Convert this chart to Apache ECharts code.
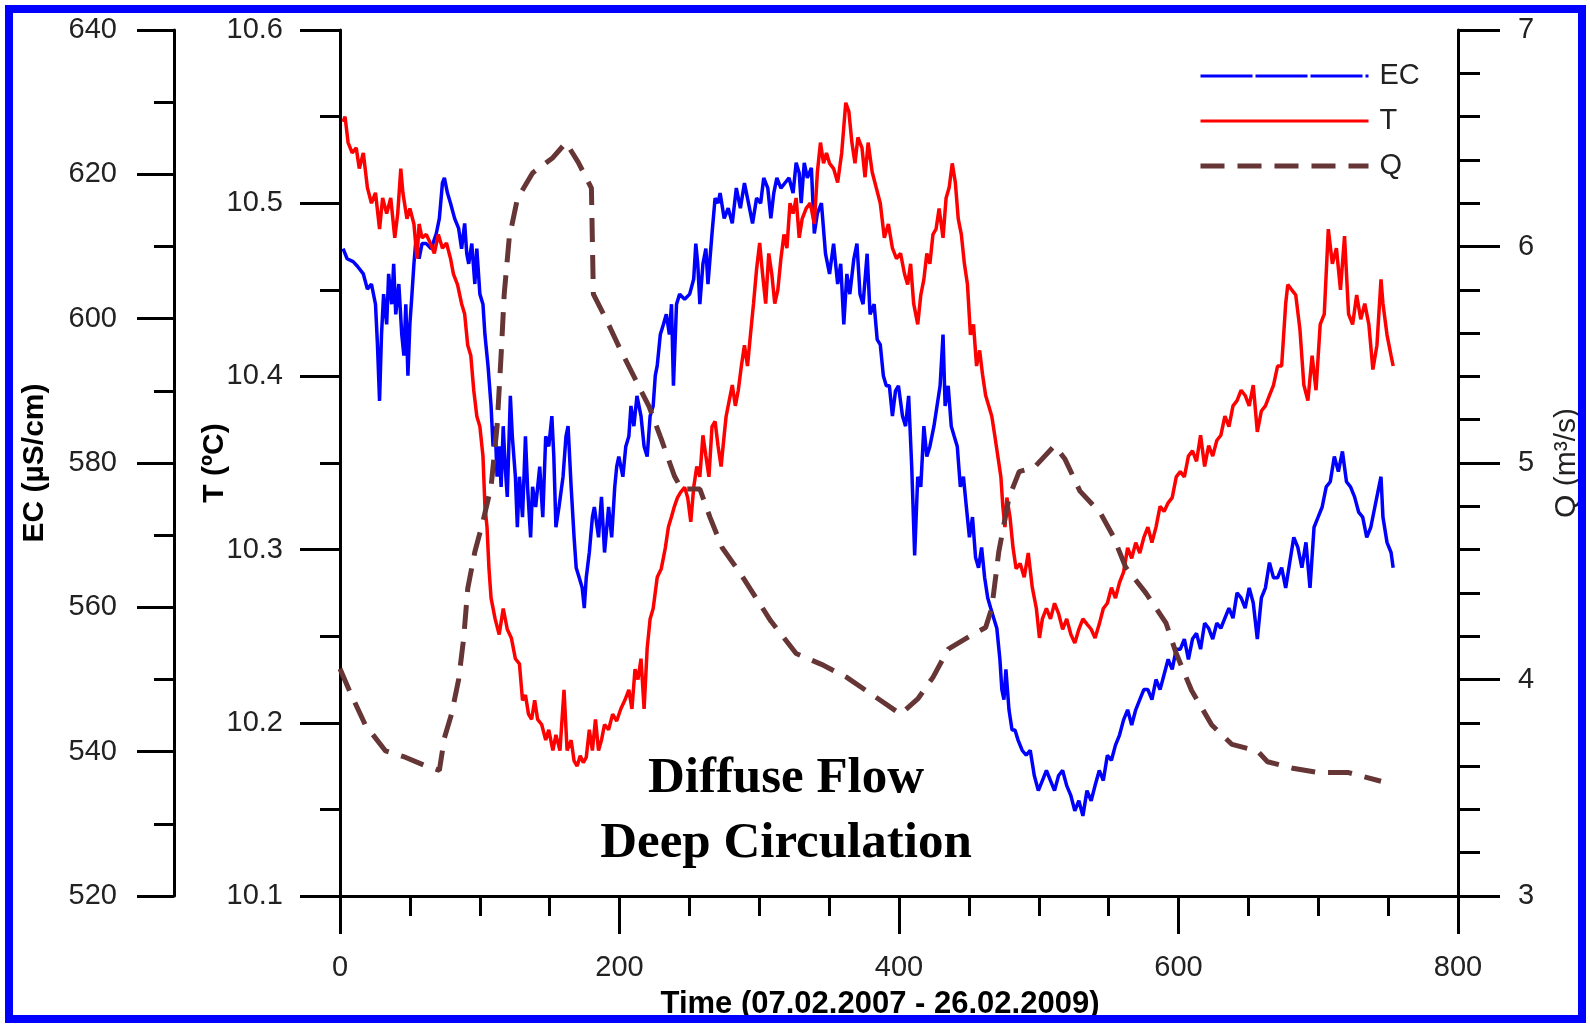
<!DOCTYPE html>
<html>
<head>
<meta charset="utf-8">
<script src="https://cdn.jsdelivr.net/npm/echarts@6/dist/echarts.min.js"></script>
<style>
  html, body { margin: 0; padding: 0; background: #fff; }
  #chart { width: 1590px; height: 1027px; }
</style>
</head>
<body>
<div id="chart"></div>
<script>
// [day, value] pairs
const ecPoints = [[2.2,609.7],[5.1,608.3],[9.4,607.9],[12.3,607.3],[16.7,606.2],[19.6,604.1],[22.5,604.8],[25.4,602.0],[26.8,596.4],[28.3,588.6],[29.7,597.8],[31.2,603.4],[33.4,599.2],[34.8,606.2],[37.0,602.0],[38.4,607.6],[39.9,600.6],[42.1,604.8],[44.2,597.8],[45.7,594.9],[47.1,602.0],[48.6,592.1],[50.0,599.2],[51.5,603.4],[52.9,607.6],[54.4,611.1],[56.6,608.3],[58.7,610.4],[61.7,610.4],[65.3,609.7],[68.9,611.8],[71.1,613.9],[73.3,618.8],[74.7,619.5],[76.9,617.4],[79.1,616.0],[82.0,613.9],[84.9,612.5],[87.0,609.7],[89.2,613.2],[90.7,609.0],[92.1,607.6],[94.3,610.4],[96.5,604.8],[97.9,609.7],[100.1,603.4],[102.3,602.0],[103.7,597.8],[105.9,593.5],[108.1,587.9],[109.5,582.3],[111.0,585.1],[112.4,578.1],[113.9,582.3],[115.3,576.7],[116.8,585.1],[118.2,579.5],[119.7,575.3],[121.9,589.3],[123.3,583.7],[125.5,578.1],[126.9,571.1],[128.4,578.1],[130.6,572.5],[132.7,583.7],[134.2,576.7],[136.4,569.7],[137.8,576.7],[140.0,573.9],[142.9,579.5],[145.1,572.5],[147.2,583.7],[149.4,582.3],[151.6,586.5],[153.0,580.9],[154.5,571.1],[156.7,573.9],[159.6,578.1],[161.7,583.7],[163.2,585.1],[165.4,576.7],[167.5,569.7],[169.0,565.5],[171.2,564.1],[173.3,562.7],[174.8,559.9],[176.2,564.1],[178.4,567.6],[180.6,572.5],[182.0,573.9],[185.0,569.7],[187.1,575.3],[189.3,567.6],[192.2,573.9],[194.4,569.7],[196.6,576.7],[198.0,579.5],[199.5,580.9],[202.4,578.1],[204.5,582.3],[206.7,583.7],[208.2,587.9],[210.3,585.1],[212.5,589.3],[215.4,586.5],[217.6,582.3],[219.8,580.9],[221.9,586.5],[224.1,587.9],[225.6,592.1],[227.0,593.5],[229.2,597.8],[231.4,599.2],[233.5,600.6],[235.7,597.8],[237.2,602.0],[238.6,590.7],[240.8,602.0],[243.0,603.4],[246.6,602.7],[250.2,603.4],[253.1,605.5],[254.6,610.4],[256.0,607.6],[257.5,602.0],[259.7,607.6],[261.8,609.7],[263.3,604.8],[266.2,611.8],[268.4,616.7],[270.5,616.0],[272.0,617.4],[274.9,613.9],[277.8,615.3],[280.7,613.2],[283.6,618.1],[286.5,615.3],[289.4,618.8],[292.3,616.0],[295.2,613.2],[298.1,616.7],[301.0,616.0],[303.2,619.5],[306.1,618.1],[308.3,613.9],[310.4,617.4],[312.6,619.5],[315.5,618.1],[318.4,618.8],[321.3,619.5],[324.2,617.4],[326.4,621.6],[328.6,620.2],[330.0,616.0],[332.2,621.6],[334.4,619.5],[337.3,620.9],[339.4,611.8],[341.6,614.6],[344.5,616.0],[347.4,609.0],[350.3,606.2],[353.2,610.4],[356.1,604.8],[358.3,607.6],[360.5,599.2],[362.7,606.2],[364.8,603.4],[367.7,608.3],[369.9,610.4],[372.1,603.4],[374.3,602.0],[377.2,609.0],[379.3,600.6],[382.2,602.0],[384.4,597.1],[386.6,596.4],[388.8,592.1],[390.9,590.7],[393.1,590.7],[395.3,586.5],[397.5,590.0],[399.6,590.7],[402.5,586.5],[404.7,585.1],[406.9,589.3],[409.1,579.5],[411.2,567.2],[413.4,578.1],[415.6,576.7],[417.8,585.1],[419.9,580.9],[422.1,582.3],[425.0,585.1],[427.2,587.9],[429.4,590.7],[431.5,597.8],[433.0,587.9],[435.2,590.7],[437.4,585.1],[439.5,583.7],[441.7,582.3],[443.9,576.7],[446.1,578.1],[448.2,573.9],[450.4,569.7],[452.6,572.5],[454.8,566.9],[456.9,565.5],[459.1,568.3],[461.3,564.1],[463.5,561.3],[465.6,559.9],[467.8,558.5],[470.0,557.1],[472.2,552.8],[473.6,548.6],[475.1,547.2],[476.5,551.4],[478.7,545.8],[480.9,543.0],[483.0,543.0],[485.2,541.6],[488.1,540.2],[491.0,539.5],[493.9,540.2],[496.8,536.7],[499.7,534.6],[502.6,536.0],[505.5,537.4],[508.4,536.0],[511.3,534.6],[514.2,536.7],[517.1,537.4],[520.0,535.3],[523.0,533.9],[525.8,531.8],[528.7,533.2],[531.6,531.1],[534.5,534.6],[537.5,533.2],[540.3,535.3],[543.3,537.4],[546.2,536.0],[549.1,539.5],[552.0,538.8],[554.9,540.9],[557.8,542.3],[560.7,544.4],[563.6,545.8],[566.5,543.7],[569.4,545.8],[572.3,547.2],[575.2,548.6],[578.1,548.6],[581.0,547.2],[583.9,550.0],[586.8,548.6],[589.7,550.7],[592.6,552.8],[595.5,551.4],[598.4,554.2],[601.3,554.2],[604.2,555.6],[607.1,552.8],[610.0,555.6],[612.9,556.4],[615.8,554.2],[618.7,557.8],[621.6,557.1],[624.5,555.6],[627.4,557.8],[630.3,557.1],[633.2,558.5],[636.1,559.9],[639.0,558.5],[641.9,562.0],[644.8,561.3],[647.7,559.9],[650.6,562.7],[653.5,560.6],[656.4,555.6],[659.3,561.3],[662.2,562.7],[665.1,566.2],[668.0,564.1],[670.9,564.1],[673.8,565.5],[676.7,562.7],[679.6,566.2],[682.5,569.7],[685.4,568.3],[688.3,565.5],[691.2,569.0],[694.1,562.7],[697.0,571.1],[699.9,572.5],[702.8,573.9],[705.7,576.7],[708.6,577.4],[711.5,580.9],[714.4,578.8],[717.3,581.6],[720.2,577.4],[723.1,576.7],[726.0,575.3],[728.9,573.2],[731.8,572.5],[734.7,569.7],[737.6,571.1],[740.5,573.9],[743.4,576.7],[744.9,578.1],[746.3,572.5],[749.2,569.0],[752.1,567.6],[753.6,565.5]];

const tPoints = [[2.2,10.547],[3.6,10.550],[5.8,10.535],[8.7,10.529],[11.6,10.532],[13.8,10.520],[16.7,10.529],[19.6,10.509],[22.5,10.500],[25.4,10.506],[28.3,10.485],[30.5,10.503],[33.4,10.494],[36.3,10.503],[39.2,10.480],[41.3,10.494],[43.5,10.520],[45.0,10.506],[47.9,10.491],[50.0,10.497],[52.9,10.488],[55.1,10.468],[56.6,10.488],[58.7,10.480],[61.7,10.482],[64.6,10.477],[67.5,10.471],[70.4,10.482],[73.3,10.474],[76.2,10.477],[79.1,10.468],[81.2,10.459],[84.1,10.453],[87.0,10.442],[89.2,10.436],[91.4,10.418],[93.6,10.412],[95.7,10.392],[97.9,10.377],[100.1,10.371],[102.3,10.354],[103.7,10.325],[105.2,10.313],[106.6,10.289],[108.1,10.272],[111.0,10.260],[113.9,10.251],[116.8,10.266],[119.7,10.254],[122.6,10.249],[125.5,10.237],[128.4,10.234],[130.6,10.213],[132.7,10.216],[134.9,10.205],[137.1,10.202],[139.3,10.213],[141.4,10.202],[144.3,10.199],[147.2,10.190],[149.4,10.196],[152.3,10.184],[154.5,10.193],[157.4,10.184],[160.3,10.219],[162.5,10.184],[165.4,10.190],[167.5,10.178],[169.7,10.175],[171.9,10.181],[174.1,10.177],[176.2,10.180],[178.4,10.196],[180.6,10.184],[182.8,10.202],[185.0,10.184],[187.1,10.190],[189.3,10.199],[192.2,10.196],[195.1,10.205],[198.0,10.201],[200.9,10.208],[203.8,10.213],[206.7,10.219],[208.9,10.208],[211.1,10.231],[213.2,10.225],[215.4,10.237],[217.6,10.208],[219.8,10.243],[221.9,10.260],[224.1,10.266],[227.0,10.284],[229.9,10.289],[232.8,10.301],[235.0,10.313],[237.2,10.319],[239.3,10.325],[241.5,10.330],[243.7,10.333],[246.6,10.336],[248.8,10.330],[251.0,10.316],[253.1,10.336],[255.3,10.348],[257.5,10.342],[259.7,10.366],[261.8,10.354],[264.0,10.342],[266.2,10.371],[268.4,10.374],[270.5,10.360],[272.7,10.348],[274.9,10.366],[276.3,10.377],[278.5,10.386],[280.7,10.395],[282.9,10.383],[285.0,10.392],[287.2,10.406],[289.4,10.418],[291.6,10.406],[293.7,10.424],[295.9,10.442],[298.1,10.462],[300.3,10.477],[302.4,10.459],[304.6,10.442],[306.8,10.471],[309.0,10.459],[311.1,10.442],[313.3,10.450],[315.5,10.468],[317.7,10.482],[319.8,10.474],[322.0,10.500],[324.2,10.494],[326.4,10.503],[328.6,10.480],[330.7,10.491],[333.6,10.497],[336.5,10.500],[339.4,10.488],[341.6,10.518],[343.8,10.535],[346.0,10.523],[348.1,10.529],[350.3,10.523],[353.2,10.520],[356.1,10.512],[359.0,10.529],[361.9,10.558],[364.1,10.553],[366.3,10.535],[368.5,10.523],[370.6,10.538],[373.5,10.532],[375.7,10.515],[377.9,10.535],[380.8,10.518],[383.7,10.509],[386.6,10.500],[389.5,10.480],[392.4,10.488],[395.3,10.474],[398.2,10.468],[401.1,10.471],[404.0,10.459],[406.2,10.453],[408.3,10.465],[410.5,10.442],[413.4,10.430],[415.6,10.447],[417.8,10.456],[419.9,10.471],[422.1,10.465],[424.3,10.482],[426.5,10.485],[428.7,10.497],[431.5,10.480],[433.7,10.503],[435.9,10.509],[438.1,10.523],[440.3,10.512],[442.4,10.491],[444.6,10.482],[446.8,10.465],[449.0,10.453],[451.1,10.424],[453.3,10.430],[455.5,10.406],[457.7,10.415],[459.8,10.401],[462.0,10.389],[464.2,10.383],[466.4,10.377],[468.5,10.366],[470.7,10.354],[472.9,10.342],[474.3,10.325],[475.8,10.313],[477.2,10.330],[479.4,10.319],[481.6,10.301],[483.8,10.289],[486.7,10.292],[489.6,10.284],[492.5,10.298],[495.4,10.278],[498.3,10.266],[500.5,10.249],[502.6,10.260],[505.5,10.266],[508.4,10.260],[511.3,10.269],[514.2,10.263],[517.1,10.254],[520.0,10.260],[523.0,10.251],[525.8,10.246],[528.7,10.254],[531.6,10.260],[534.5,10.257],[537.5,10.254],[540.3,10.249],[543.3,10.257],[546.2,10.266],[549.1,10.269],[552.0,10.278],[554.9,10.272],[557.8,10.281],[560.7,10.287],[563.6,10.301],[566.5,10.295],[569.4,10.304],[572.3,10.298],[575.2,10.307],[578.1,10.313],[581.0,10.304],[583.9,10.313],[586.8,10.325],[589.7,10.322],[592.6,10.327],[595.5,10.330],[598.4,10.342],[601.3,10.345],[604.2,10.342],[607.1,10.354],[610.0,10.357],[612.9,10.351],[615.8,10.366],[618.7,10.348],[621.6,10.360],[624.5,10.354],[627.4,10.363],[630.3,10.366],[633.2,10.377],[636.1,10.371],[639.0,10.383],[641.9,10.386],[644.8,10.392],[647.7,10.389],[650.6,10.383],[653.5,10.395],[656.4,10.368],[659.3,10.380],[662.2,10.383],[665.1,10.389],[668.0,10.395],[670.9,10.406],[673.8,10.406],[676.7,10.442],[678.2,10.453],[681.0,10.450],[683.9,10.447],[686.9,10.427],[689.7,10.395],[692.6,10.386],[695.6,10.412],[698.4,10.392],[701.4,10.430],[704.3,10.436],[707.2,10.485],[710.1,10.465],[713.0,10.474],[715.9,10.450],[718.8,10.481],[721.7,10.436],[724.6,10.430],[727.5,10.447],[730.4,10.433],[733.3,10.442],[736.2,10.430],[739.1,10.404],[742.0,10.418],[744.9,10.456],[746.3,10.442],[749.2,10.424],[752.1,10.412],[753.6,10.406]];

const qPoints = [[0,4.05],[7.3,3.94],[18.1,3.79],[32.6,3.67],[47.1,3.64],[61.7,3.60],[71.1,3.58],[74.7,3.73],[79.8,3.84],[84.9,4.00],[88.5,4.19],[91.4,4.42],[96.5,4.59],[102.3,4.73],[108.1,4.89],[112.4,5.17],[115.3,5.50],[117.5,5.78],[121.1,6.04],[126.9,6.22],[137.8,6.34],[152.3,6.41],[161.7,6.48],[170.4,6.39],[179.9,6.27],[181.3,5.78],[190.7,5.66],[200.9,5.52],[210.3,5.40],[221.2,5.26],[229.9,5.11],[239.3,4.94],[244.4,4.88],[257.5,4.88],[264.7,4.75],[273.4,4.61],[286.5,4.49],[297.4,4.38],[308.3,4.27],[326.4,4.12],[344.5,4.07],[362.6,4.01],[380.8,3.93],[401.1,3.84],[413.4,3.91],[424.3,4.01],[435.2,4.14],[453.3,4.21],[462.0,4.24],[466.4,4.33],[471.4,4.59],[478.7,4.84],[486.0,4.96],[496.8,4.98],[511.3,5.08],[518.6,5.02],[529.5,4.87],[544.0,4.77],[553.4,4.66],[562.1,4.52],[576.6,4.40],[591.1,4.26],[598.4,4.12],[609.3,3.95],[623.8,3.79],[638.3,3.70],[656.4,3.67],[663.7,3.62],[681.8,3.59],[699.9,3.57],[721.7,3.57],[744.9,3.53]];

const seriesNames = ['EC', 'T', 'Q'];
const xTitle = 'Time (07.02.2007 - 26.02.2009)';
const noteLines = ['Diffuse Flow', 'Deep Circulation'];

const black = '#000';
const blue = '#0000ff';
const red = '#ff0000';
const brown = '#663535';
const tickFont = { color: '#222', fontSize: 29, fontFamily: 'Liberation Sans' };
const lineStyle = { color: black, width: 3 };

function valueAxis(opts) {
    return Object.assign({
        type: 'value',
        splitLine: { show: false },
        minorSplitLine: { show: false },
        axisLine: { show: true, onZero: false, lineStyle: lineStyle },
        axisTick: { show: true, length: 38, lineStyle: lineStyle },
        minorTick: { show: true, length: 20, lineStyle: lineStyle },
        axisLabel: Object.assign({ margin: 57 }, tickFont),
        nameLocation: 'middle',
        nameRotate: 90,
        nameMoveOverlap: false,
    }, opts);
}

const chart = echarts.init(document.getElementById('chart'));

chart.setOption({
    backgroundColor: '#fff',
    animation: false,
    grid: { left: 340, right: 132, top: 30, bottom: 131, containLabel: false },
    legend: {
        // legend keys drawn as plain lines, no point symbol
        data: [
            { name: seriesNames[0], itemStyle: { opacity: 0 }, lineStyle: { color: blue, width: 3, type: [52, 3] } },
            { name: seriesNames[1], itemStyle: { opacity: 0 }, lineStyle: { color: red, width: 3 } },
            { name: seriesNames[2], itemStyle: { opacity: 0 }, lineStyle: { color: brown, width: 5, type: [24, 13] } }
        ],
        orient: 'vertical',
        left: 1193,
        top: 56,
        itemWidth: 168,
        itemHeight: 20,
        itemGap: 15,
        textStyle: { color: '#222', fontSize: 29, fontFamily: 'Liberation Sans', lineHeight: 30, padding: [0, 0, 0, 6] }
    },
    xAxis: valueAxis({
        min: 0, max: 800, interval: 200,
        minorTick: { show: true, splitNumber: 4, length: 20, lineStyle: lineStyle },
        nameRotate: 0,
    }),
    yAxis: [
        valueAxis({
            position: 'left', offset: 166,
            min: 520, max: 640, interval: 20,
            axisTick: { show: true, length: 37, lineStyle: lineStyle },
            minorTick: { show: true, splitNumber: 2, length: 20, lineStyle: lineStyle },
            name: 'EC (µS/cm)', nameGap: 124,
            nameTextStyle: { color: black, fontSize: 30, fontWeight: 'bold', fontFamily: 'Liberation Sans' }
        }),
        valueAxis({
            position: 'left', offset: 0,
            min: 10.1, max: 10.6, interval: 0.1,
            axisTick: { show: true, length: 40, lineStyle: lineStyle },
            minorTick: { show: true, splitNumber: 2, length: 20, lineStyle: lineStyle },
            axisLabel: Object.assign({ margin: 57, formatter: v => v.toFixed(1) }, tickFont),
            name: 'T (ºC)', nameGap: 110,
            nameTextStyle: { color: black, fontSize: 30, fontWeight: 'bold', fontFamily: 'Liberation Sans' }
        }),
        valueAxis({
            position: 'right', offset: 0,
            min: 3, max: 7, interval: 1,
            axisTick: { show: true, length: 42, lineStyle: lineStyle },
            minorTick: { show: true, splitNumber: 5, length: 22, lineStyle: lineStyle },
            axisLabel: Object.assign({ margin: 60 }, tickFont),
            name: 'Q (m³/s)', nameGap: 94,
            nameTextStyle: { color: '#222', fontSize: 30, fontFamily: 'Liberation Sans' }
        })
    ],
    series: [
        {
            name: 'EC', type: 'line', yAxisIndex: 0, data: ecPoints,
            symbol: 'none', z: 3,
            itemStyle: { color: blue },
            lineStyle: { color: blue, width: 3.5 }
        },
        {
            name: 'T', type: 'line', yAxisIndex: 1, data: tPoints,
            symbol: 'none', z: 3,
            itemStyle: { color: red },
            lineStyle: { color: red, width: 3.5 }
        },
        {
            name: 'Q', type: 'line', yAxisIndex: 2, data: qPoints,
            symbol: 'none', z: 4,
            itemStyle: { color: brown },
            lineStyle: { color: brown, width: 5, type: [24, 13] }
        }
    ],
    graphic: [
        {
            type: 'rect', silent: true, z: 100,
            shape: { x: 9, y: 9, width: 1573, height: 1010 },
            style: { fill: 'none', stroke: blue, lineWidth: 8 }
        },
        {
            type: 'text', x: 880, y: 1004,
            style: { text: xTitle, fill: black, font: 'bold 31px "Liberation Sans"', align: 'center', verticalAlign: 'middle' }
        },
        {
            type: 'text', x: 786, y: 779,
            style: { text: noteLines[0], fill: black, font: 'bold 51px "Liberation Serif"', align: 'center', verticalAlign: 'middle' }
        },
        {
            type: 'text', x: 786, y: 844,
            style: { text: noteLines[1], fill: black, font: 'bold 51px "Liberation Serif"', align: 'center', verticalAlign: 'middle' }
        }
    ]
});
</script>
</body>
</html>
